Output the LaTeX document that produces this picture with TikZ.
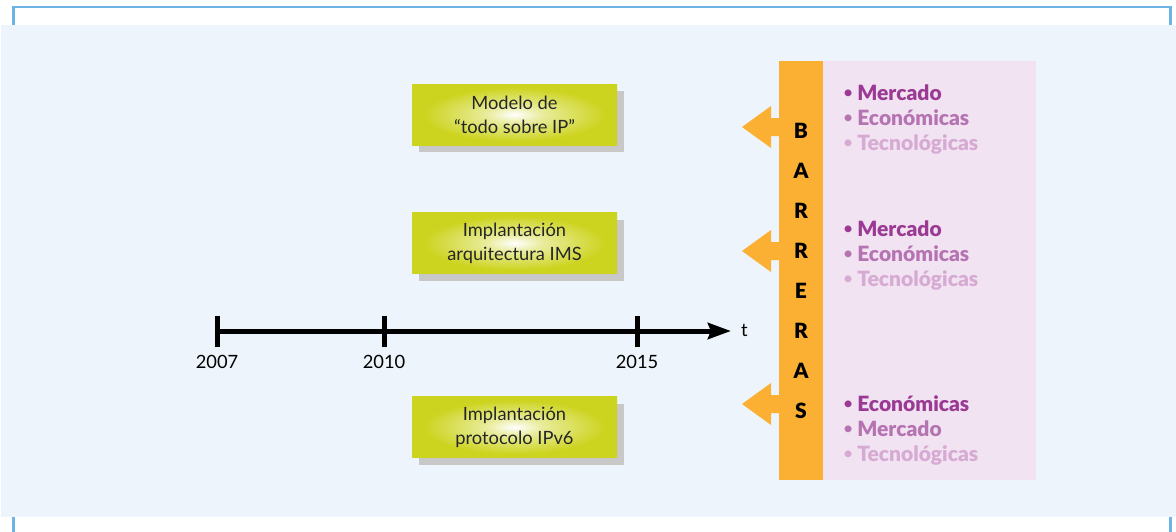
\documentclass[tikz,border=0pt]{standalone}
\usepackage{fontspec}
\setmainfont{Lato}[BoldFont={Lato Black}]
\usetikzlibrary{positioning,shadows,arrows.meta}

\definecolor{frameblue}{HTML}{6CB4E4}
\definecolor{paleblue}{HTML}{EDF4FB}
\definecolor{goalgreen}{HTML}{CDD420}
\definecolor{shadowgrey}{HTML}{C8C8C8}
\definecolor{barorange}{HTML}{FBB034}
\definecolor{panelpink}{HTML}{F1E3F2}
\definecolor{itemA}{HTML}{9A3A94}
\definecolor{itemB}{HTML}{B574B1}
\definecolor{itemC}{HTML}{D6AAD3}

% soft white glow in the middle of the goal boxes
\pgfdeclareradialshading{sglow}{\pgfpoint{0bp}{0bp}}{%
  color(0bp)=(white); color(7bp)=(goalgreen!45!white);
  color(22bp)=(goalgreen); color(50bp)=(goalgreen)}

\newcommand{\dotitem}{\raisebox{3pt}{\fontsize{14}{14}\selectfont•}\hspace{5pt}}

\tikzset{
  sframe/.style={draw=frameblue, line width=2.6pt},
  sgoal/.style={minimum width=205pt, minimum height=61pt, inner sep=0pt,
                shading=sglow, align=center, text=black!85,
                font=\fontsize{18.3}{24}\selectfont,
                drop shadow={shadow xshift=7pt, shadow yshift=-7pt,
                             opacity=1, fill=shadowgrey}},
  saxis/.style={line width=5pt, -{Stealth[length=23pt, width=16pt, inset=3pt]}},
  stick/.style={line width=5pt},
  syear/.style={font=\fontsize{18.3}{20}\selectfont, inner sep=0pt, anchor=base},
  sbar/.style={fill=barorange, minimum width=44pt, minimum height=419pt, inner sep=0pt},
  spanel/.style={fill=panelpink, minimum width=213pt, minimum height=419pt, inner sep=0pt},
  sletter/.style={font=\fontsize{21}{21}\bfseries, inner sep=0pt, anchor=base},
  sitem/.style={font=\fontsize{21}{25}\bfseries, inner sep=0pt, anchor=base west},
}

\begin{document}
\begin{tikzpicture}[x=1pt, y=-1pt]
\useasboundingbox (0,0) rectangle (1176,531);

% frame and background
\draw[sframe] (13.5,40) -- (13.5,7) -- (1170.5,7) -- (1170.5,40);
\draw[sframe] (13.5,500) -- (13.5,540);
\draw[sframe] (1170.5,500) -- (1170.5,540);
\fill[paleblue] (1,25) rectangle (1176,517);

% goals
\node[sgoal] (allip) at (514.5,114.5) {Modelo de\\“todo sobre IP”};
\node[sgoal] (ims)   at (514.5,243)   {Implantación\\arquitectura IMS};
\node[sgoal] (ipv6)  at (514.5,427)   {Implantación\\protocolo IPv6};

% time axis
\coordinate (t2007) at (217,331);
\coordinate (t2010) at (384,331);
\coordinate (t2015) at (637,331);
\coordinate (tend)  at (731,331);
\draw[saxis] (t2007) -- (tend);
\foreach \c in {t2007,t2010,t2015}
  \draw[stick] (\c) ++(0,-15.5) -- ++(0,31);
\node[syear] (l2007) at (217,368) {2007};
\node[syear] (l2010) at (384,368) {2010};
\node[syear] (l2015) at (637,368) {2015};
\node[syear, anchor=base west] (tlab) at (741,336) {t};

% barriers
\node[sbar] (bar) at (801,270.5) {};
\node[spanel, right=0pt of bar] (panel) {};
\foreach \l [count=\i from 0] in {B,A,R,R,E,R,A,S}
  \node[sletter] (bl\i) at (801,138+40.1*\i) {\l};
\foreach \y in {127,251,404}
  \fill[barorange] (742,\y) -- ++(29,-21) -- ++(0,12) -- ++(9,0)
    -- ++(0,18) -- ++(-9,0) -- ++(0,12) -- cycle;

\foreach \y/\a/\b in {100/Mercado/Económicas, 236/Mercado/Económicas,
                      411/Económicas/Mercado} {
  \node[sitem, text=itemA] (it\y a) at (844,\y)    {\dotitem\a};
  \node[sitem, text=itemB] (it\y b) at (844,\y+25) {\dotitem\b};
  \node[sitem, text=itemC] (it\y c) at (844,\y+50) {\dotitem Tecnológicas};
}
\end{tikzpicture}
\end{document}
